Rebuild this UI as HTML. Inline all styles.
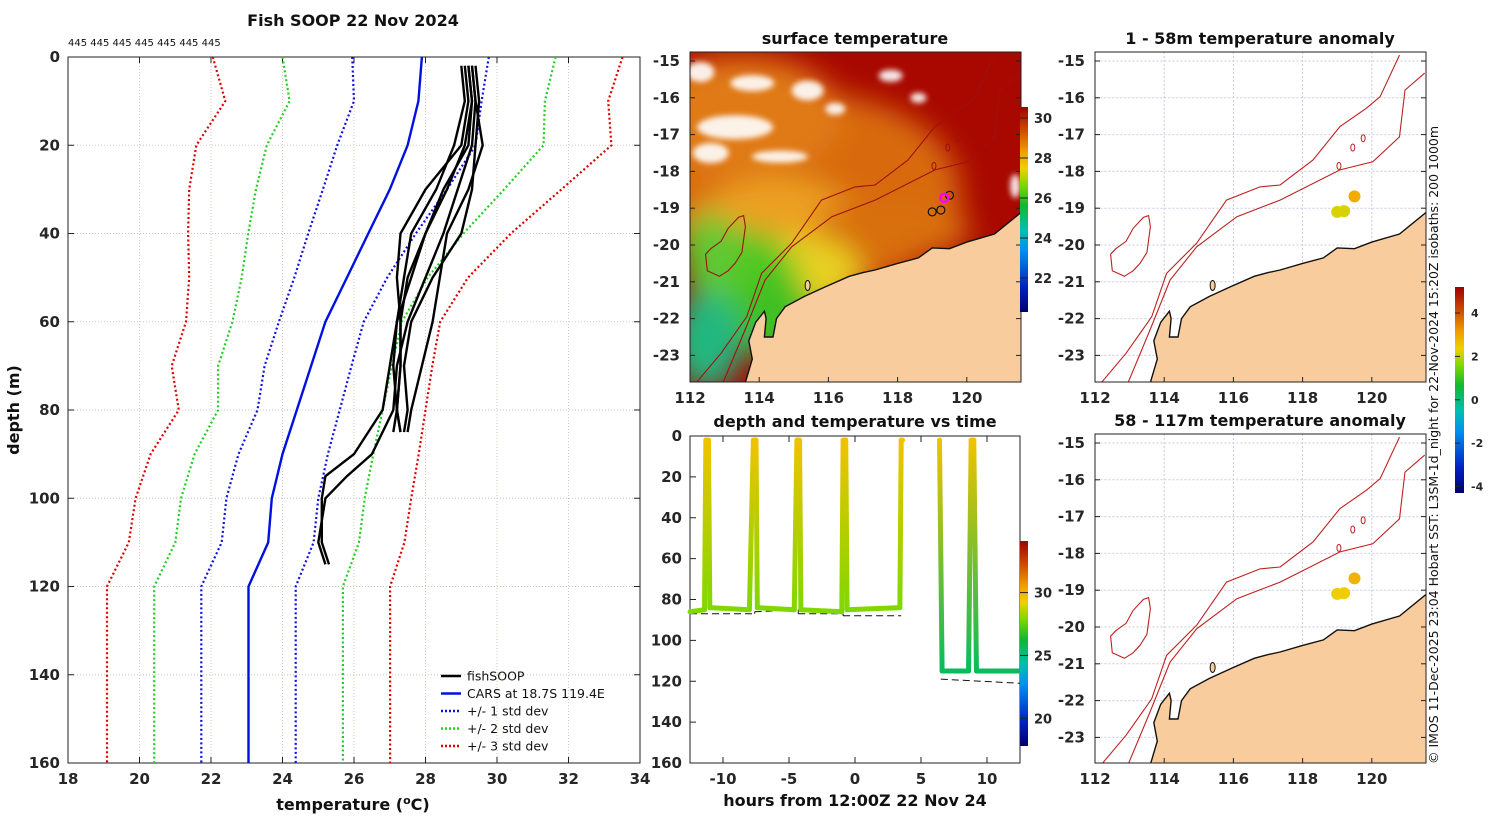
<!DOCTYPE html>
<html><head><meta charset="utf-8">
<style>
html,body{margin:0;padding:0;background:#fff;}
body{width:1500px;height:820px;overflow:hidden;font-family:"DejaVu Sans","Liberation Sans",sans-serif;}
svg text{font-family:"DejaVu Sans","Liberation Sans",sans-serif;}
.t{font-weight:bold;font-size:16px;fill:#111}
.tk{font-weight:bold;font-size:15px;fill:#262626}
.n{font-weight:normal;fill:#111}
</style></head>
<body>
<svg id="fig" width="1500" height="820" viewBox="0 0 1500 820" xmlns="http://www.w3.org/2000/svg">
<defs>
<filter id="blur" x="-50%" y="-50%" width="200%" height="200%"><feGaussianBlur stdDeviation="14"/></filter>
<filter id="blur2" x="-50%" y="-50%" width="200%" height="200%"><feGaussianBlur stdDeviation="3"/></filter>
<clipPath id="clipSST"><rect x="690" y="52" width="331" height="330"/></clipPath>
<clipPath id="clipA1"><rect x="1095" y="52" width="331" height="330"/></clipPath>
<clipPath id="clipA2"><rect x="1095" y="434" width="331" height="329"/></clipPath>
<linearGradient id="cbSST" x1="0" y1="1" x2="0" y2="0">
<stop offset="0" stop-color="#000070"/><stop offset="0.12" stop-color="#0020c0"/><stop offset="0.3" stop-color="#0090f0"/><stop offset="0.4" stop-color="#00c0b0"/><stop offset="0.52" stop-color="#10b830"/><stop offset="0.62" stop-color="#80d800"/><stop offset="0.7" stop-color="#f0d000"/><stop offset="0.78" stop-color="#f0a000"/><stop offset="0.88" stop-color="#d05000"/><stop offset="1" stop-color="#a00000"/>
</linearGradient>
</defs>
<g id="root"></g>
</svg>
<script>
// ===== Profile chart data =====
const depths=[0,10,20,30,40,50,60,70,80,90,100,110,120,160];
const carsMean=[27.9,27.8,27.5,27.0,26.4,25.8,25.2,24.8,24.4,24.0,23.7,23.6,23.05,23.05];
const stdLow=[1.95,1.8,1.97,1.87,1.68,1.47,1.3,1.3,1.1,1.23,1.27,1.3,1.32,1.32];
const stdHigh=[1.87,1.77,1.9,1.6,1.33,1.13,1.07,1.13,1.2,1.27,1.3,1.27,1.32,1.32];
const shallowDepths=[2,10,20,30,40,50,60,70,80,85];
const castP1=[29.2,29.3,29.2,28.5,28.0,27.5,27.3,27.3,27.2,27.3];
const castP2=[29.0,29.1,28.8,28.3,27.6,27.4,27.2,27.1,27.2,27.1];
const castP3=[29.4,29.5,29.4,29.3,29.0,28.2,27.6,27.4,27.5,27.4];
const castP4=[29.3,29.4,29.6,29.2,28.6,28.4,28.2,27.9,27.6,27.5];
const castP5=[29.1,29.2,29.0,28.0,27.3,27.2,27.3,27.3,27.2,27.3];
const deepDepths=[2,10,20,30,40,50,60,70,80,90,95,100,110,115];
const castP6=[29.2,29.3,29.1,28.6,28.0,27.6,27.2,27.0,26.8,26.0,25.2,25.1,25.1,25.3];
const castP7=[29.3,29.4,29.3,28.9,28.5,28.0,27.5,27.2,27.1,26.5,25.8,25.2,25.0,25.2];
const xTicks=[18,20,22,24,26,28,30,32,34];
const yTicks=[0,20,40,60,80,100,120,140,160];
// ===== Time chart data =====
const trackTime=[-12.5,-11.4,-11.3,-11.1,-11.0,-8.0,-7.7,-7.5,-7.4,-4.6,-4.4,-4.2,-4.1,-1.0,-0.9,-0.7,-0.6,3.4,3.5,3.6];
const trackDepth=[86,85,2,2,84,85,2,2,84,85,2,2,85,86,2,2,85,84,2,2];
const trackTemp=[27.9,27.9,29.6,29.6,27.9,27.9,29.6,29.6,27.9,27.9,29.6,29.6,27.9,27.9,29.6,29.6,27.9,27.9,29.6,29.6];
const track2Time=[6.4,6.6,8.6,8.8,9.0,9.2,12.5];
const track2Depth=[2,115,115,2,2,115,115];
const track2Temp=[29.6,25.6,25.6,29.6,29.6,25.6,25.6];
const seabedTime=[-12.5,-7.6,-7.6,-4.3,-4.3,-0.9,-0.9,3.5];
const seabedDepth=[86,86,85,84,86,86,87,87];
const seabed2Time=[6.5,12.5];
const seabed2Depth=[118,120];
const tTicks=[-10,-5,0,5,10];
const dTicks=[0,20,40,60,80,100,120,140,160];
// ===== Map data =====
const coastLon=[113.6,113.8,113.7,113.9,114.15,114.2,114.15,114.4,114.5,114.75,115.3,115.9,116.6,117.0,117.35,118.0,118.6,119.0,119.5,120.0,120.8,121.55];
const coastLat=[-23.73,-23.1,-22.6,-22.1,-21.8,-22.0,-22.5,-22.5,-22.0,-21.68,-21.4,-21.14,-20.85,-20.75,-20.68,-20.5,-20.35,-20.08,-20.1,-19.92,-19.7,-19.13];
const iso200Lon=[112.96,113.59,114.17,114.94,116.1,117.35,119.08,120.03,120.8,120.96,121.53];
const iso200Lat=[-23.73,-22.31,-20.95,-20.05,-19.23,-18.78,-17.96,-17.74,-17.06,-15.79,-15.33];
const iso1000Lon=[112.19,112.9,113.64,114.07,114.94,115.8,116.77,117.35,118.3,119.08,119.85,120.24,120.8];
const iso1000Lat=[-23.73,-22.94,-21.95,-20.77,-19.95,-18.78,-18.42,-18.37,-17.69,-16.78,-16.28,-15.97,-14.84];
const islandLon=[112.9,113.1,113.4,113.55,113.6,113.5,113.3,113.1,112.85,112.5,112.45,112.6,112.9];
const islandLat=[-19.9,-19.55,-19.25,-19.2,-19.5,-20.2,-20.5,-20.7,-20.85,-20.7,-20.25,-20.1,-19.9];
const anomShallow=[2.2,2.2,2.9];
const anomDeep=[2.4,2.4,2.8];
const latTicks=[-15,-16,-17,-18,-19,-20,-21,-22,-23];
const lonTicks=[112,114,116,118,120];

const NS='http://www.w3.org/2000/svg';
const root=document.getElementById('root');
function el(tag,attrs,parent){const e=document.createElementNS(NS,tag);for(const k in attrs)e.setAttribute(k,attrs[k]);(parent||root).appendChild(e);return e;}
function txt(x,y,s,cls,anchor,parent){const e=el('text',{x:x,y:y,class:cls,'text-anchor':anchor||'middle'},parent);e.textContent=s;return e;}

// ---------- Profile chart ----------
const PX0=68,PX1=640,PY0=57,PY1=763;
const px=t=>PX0+(t-18)*(PX1-PX0)/16;
const py=d=>PY0+d*(PY1-PY0)/160;
const g1=el('g',{});


xTicks.forEach(t=>{el('line',{x1:px(t),x2:px(t),y1:PY0,y2:PY1,stroke:'#d8c8b8','stroke-width':1,'stroke-dasharray':'1,2'},g1);});
yTicks.forEach(d=>{el('line',{x1:PX0,x2:PX1,y1:py(d),y2:py(d),stroke:'#c8c8c8','stroke-width':1,'stroke-dasharray':'1,2'},g1);});
el('rect',{x:PX0,y:PY0,width:PX1-PX0,height:PY1-PY0,fill:'none',stroke:'#222','stroke-width':1},g1);
xTicks.forEach(t=>{el('line',{x1:px(t),x2:px(t),y1:PY1,y2:PY1-6,stroke:'#222'},g1);el('line',{x1:px(t),x2:px(t),y1:PY0,y2:PY0+6,stroke:'#222'},g1);const l=txt(px(t),784,String(t),'tk','middle',g1);});
yTicks.forEach(d=>{el('line',{x1:PX0,x2:PX0+6,y1:py(d),y2:py(d),stroke:'#222'},g1);el('line',{x1:PX1,x2:PX1-6,y1:py(d),y2:py(d),stroke:'#222'},g1);const l=txt(60,py(d)+5,String(d),'tk','end',g1);});
function polyProf(temps,ds,color,w,dash,name){const pts=temps.map((t,i)=>px(t).toFixed(1)+','+py(ds[i]).toFixed(1)).join(' ');const p=el('polyline',{points:pts,fill:'none',stroke:color,'stroke-width':w},g1);if(dash)p.setAttribute('stroke-dasharray',dash);return p;}
[[3,'#e00000'],[2,'#20d020'],[1,'#1010e0']].forEach(([k,c])=>{
 polyProf(carsMean.map((m,i)=>m-k*stdLow[i]),depths,c,2.2,'2,2.5','std-lower-'+k);
 polyProf(carsMean.map((m,i)=>m+k*stdHigh[i]),depths,c,2.2,'2,2.5','std-upper-'+k);
});
polyProf(carsMean,depths,'#0010e0',2.4,null,'cars-mean-line');
[castP1,castP2,castP3,castP4,castP5].forEach(c=>polyProf(c,shallowDepths,'#000',2.4,null,'fishsoop-profile'));
[castP6,castP7].forEach(c=>polyProf(c,deepDepths,'#000',2.4,null,'fishsoop-profile'));
const tt=txt(353,26,'Fish SOOP 22 Nov 2024','t','middle');
const ct=txt(68,46,'445 445 445 445 445 445 445','n','start');ct.setAttribute('style','font-size:10px');
const yl=el('text',{x:0,y:0,class:'t','text-anchor':'middle',transform:'translate(19,410) rotate(-90)'});yl.textContent='depth (m)';
const xl=el('text',{x:353,y:810,class:'t','text-anchor':'middle'});xl.innerHTML='temperature (<tspan dy="-6" style="font-size:11px">o</tspan><tspan dy="6">C)</tspan>';
const leg=el('g',{});
const legItems=[['fishSOOP','#000',null],['CARS at 18.7S 119.4E','#0010e0',null],['+/- 1 std dev','#1010e0','2,2'],['+/- 2 std dev','#20d020','2,2'],['+/- 3 std dev','#e00000','2,2']];
legItems.forEach((it,i)=>{const y=676+i*17.5;const ln=el('line',{x1:441,x2:461,y1:y,y2:y,stroke:it[1],'stroke-width':2.4},leg);if(it[2])ln.setAttribute('stroke-dasharray',it[2]);const t=txt(467,y+4.5,it[0],'n','start',leg);t.setAttribute('style','font-size:12.5px');});

// ---------- colormap ----------
const cmStops=[[0,[0,0,112]],[0.12,[0,32,192]],[0.3,[0,144,240]],[0.4,[0,192,176]],[0.52,[16,184,48]],[0.62,[128,216,0]],[0.7,[240,208,0]],[0.78,[240,160,0]],[0.88,[208,80,0]],[1,[160,0,0]]];
function cmap(v){v=Math.max(0,Math.min(1,v));for(let i=1;i<cmStops.length;i++){if(v<=cmStops[i][0]){const a=cmStops[i-1],b=cmStops[i];const f=(v-a[0])/(b[0]-a[0]);const c=a[1].map((x,j)=>Math.round(x+(b[1][j]-x)*f));return 'rgb('+c.join(',')+')';}}return 'rgb(160,0,0)';}

// ---------- Time chart ----------
const TX0=690,TX1=1020,TY0=436,TY1=763;
const tx=h=>855+h*13.2;
const ty=d=>TY0+d*(TY1-TY0)/160;
const TMIN=17.8,TMAX=34.1;
const g2=el('g',{});
el('rect',{x:TX0,y:TY0,width:TX1-TX0,height:TY1-TY0,fill:'#fff',stroke:'#222'},g2);
tTicks.forEach(h=>{el('line',{x1:tx(h),x2:tx(h),y1:TY1,y2:TY1-6,stroke:'#222'},g2);el('line',{x1:tx(h),x2:tx(h),y1:TY0,y2:TY0+6,stroke:'#222'},g2);const l=txt(tx(h),784,String(h),'tk','middle',g2);});
dTicks.forEach(d=>{el('line',{x1:TX0,x2:TX0+6,y1:ty(d),y2:ty(d),stroke:'#222'},g2);const l=txt(682,ty(d)+5,String(d),'tk','end',g2);});
function dashed(ts,ds){for(let i=0;i<ts.length-1;i++){const s=el('line',{x1:tx(ts[i]),y1:ty(ds[i])+2,x2:tx(ts[i+1]),y2:ty(ds[i+1])+2,stroke:'#111','stroke-width':1,'stroke-dasharray':'7,4'},g2);}}
dashed(seabedTime,seabedDepth);dashed(seabed2Time,seabed2Depth);
let gid=0;
function track(ts,ds,temps){for(let i=0;i<ts.length-1;i++){const x1=tx(ts[i]),y1=ty(ds[i]),x2=tx(ts[i+1]),y2=ty(ds[i+1]);const id='tg'+(gid++);const lg=el('linearGradient',{id:id,gradientUnits:'userSpaceOnUse',x1:x1,y1:y1,x2:x2,y2:y2+0.01},g2);el('stop',{offset:0,'stop-color':cmap((temps[i]-TMIN)/(TMAX-TMIN))},lg);el('stop',{offset:1,'stop-color':cmap((temps[i+1]-TMIN)/(TMAX-TMIN))},lg);const s=el('line',{x1:x1,y1:y1,x2:x2,y2:y2,stroke:'url(#'+id+')','stroke-width':5,'stroke-linecap':'round'},g2);}}
track(trackTime,trackDepth,trackTemp);track(track2Time,track2Depth,track2Temp);
const t2=txt(855,427,'depth and temperature vs time','t','middle');
const xl2=txt(855,806,'hours from 12:00Z 22 Nov 24','t','middle');
el('rect',{x:1020,y:541,width:8,height:205,fill:'url(#cbSST)'});
[30,25,20].forEach(v=>{const y=746-(v-TMIN)/(TMAX-TMIN)*205;el('line',{x1:1020,x2:1028,y1:y,y2:y,stroke:'#222'});const l=txt(1034,y+5,String(v),'tk','start');l.setAttribute('style','font-size:13px');});

// ---------- Maps ----------
function proj(x0,y0){return {x:lon=>x0+(lon-112)*34.6,y:lat=>y0+(-15-lat)*36.8};}
function pts(P,lons,lats){return lons.map((l,i)=>P.x(l).toFixed(1)+','+P.y(lats[i]).toFixed(1)).join(' ');}
function mapBase(g,P,clip,top,bottom){
 const grid=el('g',{'clip-path':'url(#'+clip+')'},g);
 lonTicks.forEach(l=>el('line',{x1:P.x(l),x2:P.x(l),y1:top,y2:bottom,stroke:'#c8cce0','stroke-dasharray':'2,2'},grid));
 latTicks.forEach(l=>el('line',{x1:P.x(111),x2:P.x(122),y1:P.y(l),y2:P.y(l),stroke:'#c8cce0','stroke-dasharray':'2,2'},grid));
 return grid;
}
function mapOverlay(g,P,clip,top,bottom,iso){
 const c=el('g',{'clip-path':'url(#'+clip+')'},g);
 const land=el('polygon',{points:pts(P,coastLon.concat([122,122,113.6]),coastLat.concat([-19.13,-24,-24])),fill:'#f8cc9c',stroke:'#111','stroke-width':1.4},c);
 
 const a=el('polyline',{points:pts(P,iso200Lon,iso200Lat),fill:'none',stroke:iso,'stroke-width':1.1},c);
 const b=el('polyline',{points:pts(P,iso1000Lon,iso1000Lat),fill:'none',stroke:iso,'stroke-width':1.1},c);
 const isl=el('polygon',{points:pts(P,islandLon,islandLat),fill:'none',stroke:iso,'stroke-width':1.1},c);
 [[119.05,-17.85],[119.45,-17.35],[119.75,-17.1]].forEach(([lo,la])=>el('ellipse',{cx:P.x(lo),cy:P.y(la),rx:2,ry:3.5,fill:'none',stroke:iso,'stroke-width':1},c));
 el('ellipse',{cx:P.x(115.4),cy:P.y(-21.1),rx:2.5,ry:5,fill:'#f8cc9c',stroke:'#111'},c);
 el('rect',{x:P.x(112),y:top,width:331,height:bottom-top,fill:'none',stroke:'#222'},g);
 lonTicks.forEach(l=>{el('line',{x1:P.x(l),x2:P.x(l),y1:bottom,y2:bottom-5,stroke:'#222'},g);const t=txt(P.x(l),bottom+21,String(l),'tk','middle',g);});
 latTicks.forEach(l=>{el('line',{x1:P.x(112),x2:P.x(112)+5,y1:P.y(l),y2:P.y(l),stroke:'#222'},g);el('line',{x1:P.x(112)+331,x2:P.x(112)+326,y1:P.y(l),y2:P.y(l),stroke:'#222'},g);const t=txt(P.x(112)-10,P.y(l)+5,String(l),'tk','end',g);});
}
// SST map
const PS=proj(690,61);
const g3=el('g',{});
const sc=el('g',{'clip-path':'url(#clipSST)'},g3);
el('rect',{x:690,y:52,width:331,height:330,fill:'#a80800'},sc);
const blobs=el('g',{filter:'url(#blur)'},sc);
[[115.5,-18.6,150,100,'#d86a10'],[113.5,-16.5,100,60,'#e07a18'],[114.5,-19.8,90,60,'#eca020'],[117.8,-19.6,80,30,'#d87010'],[115.2,-20.8,60,40,'#e8d020'],[113.6,-21.2,55,60,'#50c820'],[114.5,-22.0,40,40,'#40c020'],[112.5,-22.6,35,50,'#20b880'],[112.6,-20.2,30,40,'#60c830']].forEach(([lo,la,rx,ry,c])=>el('ellipse',{cx:PS.x(lo),cy:PS.y(la),rx:rx,ry:ry,fill:c},blobs));
const clouds=el('g',{filter:'url(#blur2)',opacity:0.9},sc);
[[112.3,-15.3,14,10],[113.8,-15.6,22,8],[113.3,-16.8,38,12],[112.6,-17.5,18,10],[114.6,-17.6,28,6],[115.4,-15.8,16,10],[116.2,-16.3,10,6],[117.8,-15.4,12,6],[118.6,-16.0,8,5],[121.4,-18.4,5,12]].forEach(([lo,la,rx,ry])=>el('ellipse',{cx:PS.x(lo),cy:PS.y(la),rx:rx,ry:ry,fill:'#fff'},clouds));
mapOverlay(g3,PS,'clipSST',52,382,'#a01010');
el('circle',{cx:PS.x(119.0),cy:PS.y(-19.1),r:4,fill:'none',stroke:'#111','stroke-width':1.2},g3);
el('circle',{cx:PS.x(119.25),cy:PS.y(-19.05),r:4,fill:'none',stroke:'#111','stroke-width':1.2},g3);
el('circle',{cx:PS.x(119.5),cy:PS.y(-18.65),r:4,fill:'none',stroke:'#111','stroke-width':1.2},g3);
const mk=el('circle',{cx:PS.x(119.35),cy:PS.y(-18.72),r:4,fill:'none',stroke:'#ff00ff','stroke-width':2.5},g3);
const t3=txt(855,44,'surface temperature','t','middle');
el('rect',{x:1020,y:107,width:8,height:205,fill:'url(#cbSST)'});
[[30,118],[28,158],[26,198],[24,238],[22,278]].forEach(([v,y])=>{el('line',{x1:1020,x2:1028,y1:y,y2:y,stroke:'#222'});const l=txt(1034,y+5,String(v),'tk','start');l.setAttribute('style','font-size:13px');});

// Anomaly maps
const AMIN=-4.3,AMAX=5.2;
function anomMap(y0,top,bottom,clip,vals,title,name){
 const P=proj(1095,y0);
 const g=el('g',{});
 mapBase(g,P,clip,top,bottom);
 mapOverlay(g,P,clip,top,bottom,'#c02020');
 const locs=[[119.0,-19.1],[119.2,-19.08],[119.5,-18.68]];
 vals.forEach((v,i)=>{const d=el('circle',{cx:P.x(locs[i][0]),cy:P.y(locs[i][1]),r:6,fill:cmap((v-AMIN)/(AMAX-AMIN))},g);});
 const t=txt(1260,top-8,title,'t','middle');
}
anomMap(61,52,382,'clipA1',anomShallow,'1 - 58m temperature anomaly','anomaly-map-shallow');
anomMap(443,434,763,'clipA2',anomDeep,'58 - 117m temperature anomaly','anomaly-map-deep');
const cb3=el('rect',{x:1455,y:287,width:9,height:206,fill:'url(#cbSST)'});
[4,2,0,-2,-4].forEach(v=>{const y=493-(v-AMIN)/(AMAX-AMIN)*206;el('line',{x1:1455,x2:1460,y1:y,y2:y,stroke:'#222'});const l=txt(1471,y+4,String(v),'tk','start');l.setAttribute('style','font-size:11px');});
const cr=el('text',{x:0,y:0,'text-anchor':'start',transform:'translate(1438,764) rotate(-90)',style:'font-size:12.5px;fill:#111'});cr.textContent='© IMOS 11-Dec-2025 23:04 Hobart SST: L3SM-1d_night for 22-Nov-2024 15:20Z isobaths: 200  1000m';
</script>
</body></html>
